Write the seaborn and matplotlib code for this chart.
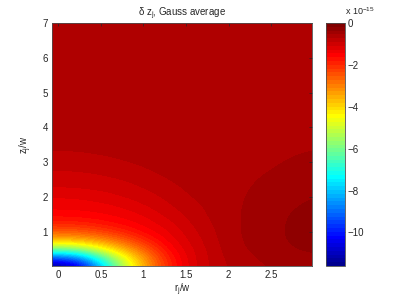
import numpy as np
import matplotlib
matplotlib.use("Agg")
import matplotlib.pyplot as plt
from matplotlib.colors import ListedColormap, Normalize
import seaborn as sns

# grid of the field (units of 1e-15)
r_vals = np.arange(0, 3.01, 0.25)
z_vals = np.arange(0, 7.01, 0.25)
field_low = np.array([
    [-11.70, -10.60, -8.16, -5.41, -3.56, -2.11, -1.27, -0.91, -0.70, -0.61, -0.53, -0.48, -0.46],
    [-9.30, -8.74, -6.65, -4.81, -3.28, -1.98, -1.25, -0.90, -0.67, -0.57, -0.48, -0.42, -0.39],
    [-6.02, -5.75, -4.68, -3.63, -2.63, -1.70, -1.19, -0.88, -0.63, -0.53, -0.44, -0.37, -0.33],
    [-3.74, -3.60, -3.23, -2.65, -1.99, -1.47, -1.10, -0.84, -0.61, -0.51, -0.42, -0.34, -0.29],
    [-2.60, -2.52, -2.27, -1.94, -1.57, -1.32, -1.03, -0.80, -0.60, -0.50, -0.41, -0.33, -0.27],
    [-1.90, -1.86, -1.72, -1.55, -1.39, -1.18, -0.95, -0.75, -0.60, -0.50, -0.41, -0.34, -0.27],
    [-1.54, -1.52, -1.47, -1.38, -1.25, -1.05, -0.88, -0.71, -0.60, -0.50, -0.42, -0.35, -0.29],
    [-1.38, -1.37, -1.32, -1.24, -1.10, -0.96, -0.81, -0.69, -0.60, -0.51, -0.44, -0.38, -0.32],
    [-1.26, -1.24, -1.18, -1.09, -1.00, -0.88, -0.74, -0.66, -0.61, -0.52, -0.46, -0.41, -0.36],
    [-1.10, -1.08, -1.05, -0.99, -0.91, -0.80, -0.70, -0.64, -0.61, -0.54, -0.49, -0.44, -0.40],
    [-0.99, -0.98, -0.95, -0.91, -0.82, -0.73, -0.67, -0.63, -0.62, -0.56, -0.51, -0.47, -0.44],
    [-0.91, -0.90, -0.87, -0.81, -0.74, -0.69, -0.64, -0.63, -0.62, -0.58, -0.54, -0.50, -0.47],
    [-0.82, -0.81, -0.78, -0.73, -0.70, -0.66, -0.63, -0.63, -0.63, -0.60, -0.56, -0.53, -0.50],
    [-0.74, -0.73, -0.71, -0.69, -0.66, -0.64, -0.63, -0.63, -0.63, -0.61, -0.58, -0.55, -0.53],
    [-0.69, -0.69, -0.68, -0.66, -0.64, -0.63, -0.63, -0.63, -0.63, -0.62, -0.60, -0.58, -0.56],
    [-0.66, -0.65, -0.65, -0.64, -0.63, -0.63, -0.63, -0.63, -0.63, -0.63, -0.62, -0.60, -0.59],
    [-0.64, -0.63, -0.63, -0.63, -0.63, -0.63, -0.63, -0.63, -0.63, -0.63, -0.63, -0.62, -0.61],
])
top_level = -0.63  # flat region above z = 4
cbar_ticks = [0, -2, -4, -6, -8, -10]
vmin, vmax = -11.6, 0.0

field = np.vstack([field_low, np.full((len(z_vals) - len(field_low), len(r_vals)), top_level)])

# matlab style jet(64)
n = 64
m = n // 4
u = np.concatenate([np.arange(1, m + 1) / m, np.ones(m - 1), np.arange(m, 0, -1) / m])
g = m // 2 + np.arange(1, len(u) + 1)
jet = np.zeros((n, 3))
for ch, idx in ((0, g + m), (1, g), (2, g - m)):
    ok = (idx >= 1) & (idx <= n)
    jet[idx[ok] - 1, ch] = u[ok]
cmap = ListedColormap(jet)

sns.set_style("white")
plt.rcParams["font.family"] = ["Liberation Sans", "DejaVu Sans"]
plt.rcParams["mathtext.fontset"] = "custom"
plt.rcParams["mathtext.rm"] = "Liberation Sans"
plt.rcParams["mathtext.it"] = "Liberation Sans"

fig = plt.figure(figsize=(3.99, 3.0), dpi=100)
ax = fig.add_axes([52 / 399, 34 / 300, 260 / 399, 243 / 300])
cax = fig.add_axes([326 / 399, 34 / 300, 19 / 399, 243 / 300])

dr = (r_vals[1] - r_vals[0]) / 2
dz = (z_vals[1] - z_vals[0]) / 2
im = ax.imshow(field, origin="lower", aspect="auto", cmap=cmap,
               norm=Normalize(vmin, vmax),
               extent=[r_vals[0] - dr, r_vals[-1] + dr, z_vals[0] - dz, z_vals[-1] + dz],
               interpolation="bicubic", interpolation_stage="data")
ax.set_xlim(-0.075, 2.98)
ax.set_ylim(0.02, 7)
ax.set_xticks([0, 0.5, 1, 1.5, 2, 2.5])
ax.set_xticklabels(["0", "0.5", "1", "1.5", "2", "2.5"])
ax.set_yticks([1, 2, 3, 4, 5, 6, 7])
ax.tick_params(direction="in", length=2.5, width=0.5, labelsize=7,
               top=True, right=True, pad=3, colors="0.15")
for s in ax.spines.values():
    s.set_linewidth(0.6)
    s.set_color("0.3")

ax.set_title("δ z$_\\mathregular{j}$, Gauss average", fontsize=7, pad=5)
ax.set_xlabel("r$_\\mathregular{j}$/w", fontsize=7, labelpad=1)
ax.set_ylabel("z$_\\mathregular{j}$/w", fontsize=7, labelpad=6)

cb = fig.colorbar(im, cax=cax, ticks=cbar_ticks)
cb.outline.set_linewidth(0.6)
cb.outline.set_edgecolor("0.3")
cax.tick_params(direction="in", length=2.5, width=0.5, labelsize=7, pad=2, colors="0.15")
cax.set_yticklabels(["0", "\u22122", "\u22124", "\u22126", "\u22128", "\u221210"])
fig.text(345 / 399, 1 - 17 / 300, "x 10$^{\\mathregular{-15}}$", fontsize=6.5,
         color="0.15", va="bottom")

fig.savefig("out.png", dpi=100)
